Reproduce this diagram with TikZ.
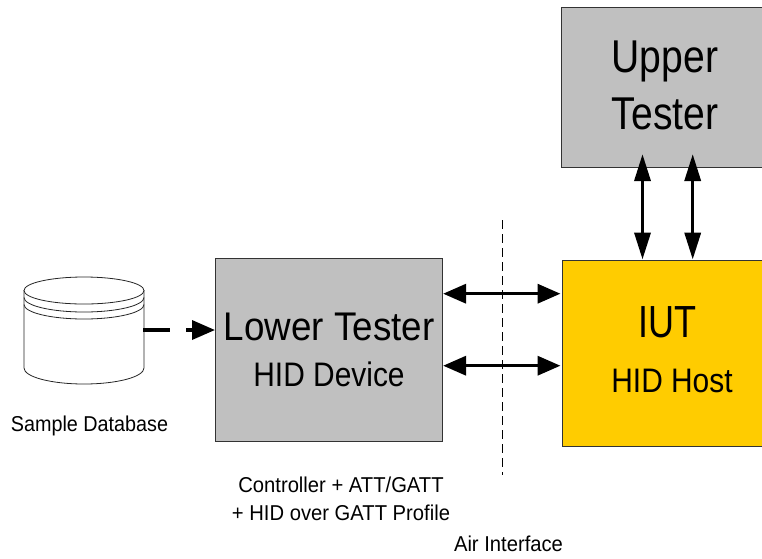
\documentclass[tikz,border=0pt]{standalone}
\usepackage{fontspec}
\setmainfont{Liberation Sans}
\usetikzlibrary{arrows.meta,calc}
\definecolor{boxgrey}{RGB}{192,192,192}
\definecolor{iutyellow}{RGB}{255,204,0}
\newfontfamily\fa[FakeStretch=0.85]{Liberation Sans}
\newfontfamily\fb[FakeStretch=0.80]{Liberation Sans}
\newfontfamily\fc[FakeStretch=0.88]{Liberation Sans}
\newfontfamily\fd[FakeStretch=0.92]{Liberation Sans}
\newfontfamily\fe[FakeStretch=0.94]{Liberation Sans}
\tikzset{
 x=1pt,y=-1pt,
 blockbox/.style={draw=black!80,line width=1.1pt,anchor=north west,inner sep=0pt},
 dblh/.style={line width=3.5pt,{Triangle[length=23pt,width=19pt]}-{Triangle[length=23pt,width=19pt]}},
 dblv/.style={line width=3.5pt,{Triangle[length=27pt,width=16pt]}-{Triangle[length=27pt,width=16pt]}},
 lbl/.style={inner sep=0pt,align=center,anchor=base},
 dbline/.style={draw=black!85,line width=0.8pt,fill=white}
}
\begin{document}
\begin{tikzpicture}
\useasboundingbox (0,0) rectangle (762,558);
\node[blockbox,fill=boxgrey,minimum width=203pt,minimum height=160pt] (ut) at (561,7) {};
\node[blockbox,fill=iutyellow,minimum width=202pt,minimum height=186pt] (iut) at (562,260) {};
\node[blockbox,fill=boxgrey,minimum width=227pt,minimum height=183pt] (lt) at (215,258) {};
% database
\path[dbline] (24,290.5) -- (24,368) arc[start angle=180,end angle=360,x radius=60pt,y radius=16pt] -- (144,290.5) -- cycle;
\draw[dbline,fill=none] (24,297.5) arc[start angle=180,end angle=360,x radius=60pt,y radius=14.5pt];
\draw[dbline,fill=none] (24,304.5) arc[start angle=180,end angle=360,x radius=60pt,y radius=14.5pt];
\path[dbline] (84,290.5) ellipse[x radius=60pt,y radius=13.5pt];
\coordinate (db) at (143,330);
\coordinate (air1) at (502,220);
\coordinate (air2) at (502,475);
% air interface
\draw[black,line width=0.8pt,dash pattern=on 9pt off 5pt] (air1) -- (air2);
% connectors
\draw[line width=3.5pt,dash pattern=on 27pt off 16pt,-{Triangle[length=23pt,width=19pt]}] (db) -- (db -| lt.west);
\draw[dblh] ($(lt.north east)+(0,35.7)$) -- ($(iut.north west)+(-1.5,33.7)$);
\draw[dblh] ($(lt.north east)+(0,107.7)$) -- ($(iut.north west)+(-1.5,105.7)$);
\draw[dblv] ($(ut.south west)+(81.5,-14)$) -- ($(iut.north west)+(80.5,-0.5)$);
\draw[dblv] ($(ut.south west)+(131.7,-14)$) -- ($(iut.north west)+(130.7,-0.5)$);
% labels
\node[lbl,font=\fa\fontsize{46}{50}\selectfont] (t1) at (665,72.5) {Upper};
\node[lbl,font=\fa\fontsize{46}{50}\selectfont] (t2) at (665,129) {Tester};
\node[lbl,font=\fb\fontsize{45}{50}\selectfont] (t3) at (667,337) {IUT};
\node[lbl,font=\fc\fontsize{34}{38}\selectfont] (t4) at (672,392) {HID Host};
\node[lbl,font=\fd\fontsize{40}{44}\selectfont] (t5) at (329,340.5) {Lower Tester};
\node[lbl,font=\fc\fontsize{34}{38}\selectfont] (t6) at (329,386) {HID Device};
\node[lbl,font=\fd\fontsize{21.5}{24}\selectfont] (t7) at (89.5,431) {Sample Database};
\node[lbl,font=\fe\fontsize{21.5}{24}\selectfont] (t8) at (341,492.5) {Controller + ATT/GATT};
\node[lbl,font=\fe\fontsize{21.5}{24}\selectfont] (t9) at (341,520.5) {+ HID over GATT Profile};
\node[lbl,font=\fe\fontsize{21.5}{24}\selectfont] (t10) at (508.5,551) {Air Interface};
\end{tikzpicture}
\end{document}
